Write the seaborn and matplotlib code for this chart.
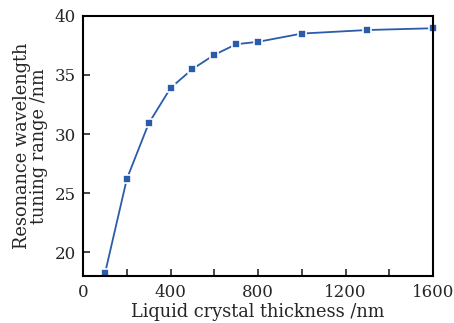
import numpy as np
import pandas as pd
import matplotlib
matplotlib.use('Agg')
import matplotlib.pyplot as plt
import seaborn as sns

# values
thickness = [100, 200, 300, 400, 500, 600, 700, 800, 1000, 1300, 1600]
tuning_range = [18.2, 26.2, 30.9, 33.9, 35.5, 36.7, 37.6, 37.8, 38.5, 38.8, 38.95]
x_ticks = [0, 400, 800, 1200, 1600]
y_ticks = [20, 25, 30, 35, 40]

df = pd.DataFrame({'thickness': thickness, 'range': tuning_range})

sns.set_style('ticks')
plt.rcParams['font.family'] = ['DejaVu Serif']
plt.rcParams['mathtext.fontset'] = 'dejavuserif'

fig, ax = plt.subplots(figsize=(4.54, 3.23), dpi=100)
sns.lineplot(data=df, x='thickness', y='range', ax=ax, color='#2b5bab',
             linewidth=1.3, marker='s', markersize=5.5,
             markerfacecolor='#2b5bab', markeredgecolor='white',
             markeredgewidth=1.2, clip_on=False)

ax.set_xlim(0, 1600)
ax.set_ylim(18, 40)
ax.set_xticks(x_ticks)
ax.set_xticks(np.arange(200, 1600, 400), minor=True)
ax.set_yticks(y_ticks)
ax.tick_params(axis='both', which='both', direction='in', labelsize=12,
               width=1.2, top=False, right=False)
ax.tick_params(axis='x', which='both', pad=6)
ax.tick_params(axis='y', which='both', pad=5)
ax.tick_params(axis='both', which='major', length=5)
ax.tick_params(axis='x', which='minor', length=5)
for s in ax.spines.values():
    s.set_linewidth(1.5)
    s.set_color('black')

ax.set_xlabel('Liquid crystal thickness /nm', fontsize=12.8, labelpad=1)
ax.set_ylabel('Resonance wavelength\ntuning range /nm', fontsize=12.8,
              linespacing=0.95, labelpad=5)

fig.subplots_adjust(left=0.183, right=0.954, top=0.951, bottom=0.146)
fig.savefig('out.png', dpi=100)
